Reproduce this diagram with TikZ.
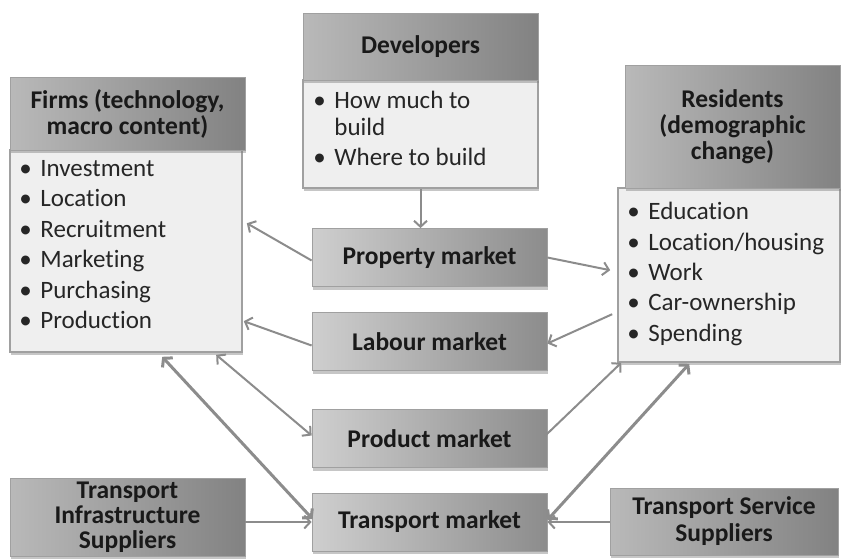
\documentclass[tikz,border=0pt]{standalone}
\usepackage{fontspec}
\setmainfont{Carlito}[Ligatures={NoCommon}]
\usetikzlibrary{calc,shadows,arrows.meta}
\definecolor{txt}{HTML}{262626}
\definecolor{arr}{HTML}{8C8C8C}
\definecolor{bodyfill}{HTML}{EFEFEF}
\definecolor{boxline}{HTML}{A0A0A0}
\newcommand\bl{\makebox[21pt][l]{\textbullet}}
\newcommand\bi{\makebox[21pt][l]{}}
\tikzset{
  shad/.style={drop shadow={opacity=0.45,shadow xshift=1pt,shadow yshift=-3pt}},
  hdr/.style={shad,draw=boxline,line width=0.8pt,left color=gray!55,right color=gray!98,
    inner sep=0pt,align=center,text=black!90,font=\bfseries\fontsize{25.5}{26}\selectfont},
  mkt/.style={shad,draw=boxline,line width=0.8pt,left color=gray!38,right color=gray!90,
    inner sep=0pt,align=center,text=black!90,font=\bfseries\fontsize{25.5}{30}\selectfont,
    minimum width=235pt,minimum height=58pt},
  bodybox/.style={shad,draw=boxline,line width=1.6pt,fill=bodyfill,inner sep=0pt},
  lst/.style={anchor=north west,inner sep=0pt,align=left,text=txt,
    font=\fontsize{25}{30.4}\selectfont},
  con/.style={draw=arr,line width=2pt,-{Straight Barb[length=6pt,width=13pt]}},
  dcon/.style={draw=arr,line width=3pt,{Straight Barb[length=6pt,width=14pt]}-{Straight Barb[length=6pt,width=14pt]}},
  scon/.style={draw=arr,line width=2pt,{Straight Barb[length=6pt,width=13pt]}-{Straight Barb[length=6pt,width=13pt]}},
}
\begin{document}
\begin{tikzpicture}[x=1pt,y=-1pt]
\useasboundingbox (0,0) rectangle (843,558);
% Firms
\node[bodybox,minimum width=232pt,minimum height=202pt] (firmsB) at (126,251) {};
\node[hdr,minimum width=235pt,minimum height=73pt] (firmsH) at (127.5,113.5) {Firms (technology,\\macro content)};
\node[lst] (firmsL) at ($(firmsB.north west)+(10,11)$) {\bl Investment\\\bl Location\\\bl Recruitment\\\bl Marketing\\\bl Purchasing\\\bl Production};
% Developers
\node[bodybox,minimum width=235pt,minimum height=108pt] (devB) at (420.5,134) {};
\node[hdr,minimum width=235pt,minimum height=67pt] (devH) at (420.5,46.5) {Developers};
\node[lst] (devL) at ($(devB.north west)+(11,12)$) {\bl How much to\\[-4pt]\bi build\\\bl Where to build};
% Residents
\node[bodybox,minimum width=222pt,minimum height=174pt] (resB) at (729,275) {};
\node[hdr,minimum width=215pt,minimum height=123pt] (resH) at (732.5,126.5) {Residents\\(demographic\\change)};
\node[lst] (resL) at ($(resB.north west)+(10,15)$) {\bl Education\\\bl Location/housing\\\bl Work\\\bl Car-ownership\\\bl Spending};
% Markets
\node[mkt] (prop) at (429.5,257.5) {Property market};
\node[mkt] (lab) at (429.5,341.5) {Labour market};
\node[mkt] (prod) at (429.5,438.5) {Product market};
\node[mkt] (trans) at (429.5,522) {Transport market};
% Suppliers
\node[hdr,minimum width=235pt,minimum height=78pt,font=\bfseries\fontsize{25.5}{25}\selectfont] (infra) at (127.5,517) {Transport\\Infrastructure\\Suppliers};
\node[hdr,minimum width=228pt,minimum height=67pt,font=\bfseries\fontsize{25.5}{27}\selectfont] (serv) at (724,521.5) {Transport Service\\Suppliers};
% Connectors
\draw[con] (devB.south) -- (devB.south |- prop.north);
\draw[con] ($(prop.west)+(0,3)$) -- ($(firmsB.north east)+(4,74)$);
\draw[con] ($(prop.east)+(0,0)$) -- ($(resB.north west)+(-7,83)$);
\draw[con] ($(resB.north west)+(-5,127)$) -- ($(lab.east)+(0,2)$);
\draw[con] ($(lab.west)+(0,4)$) -- ($(firmsB.north east)+(1,172)$);
\draw[scon] ($(firmsB.south west)+(207,2)$) -- ($(prod.west)+(0,-3)$);
\draw[dcon] ($(firmsB.south west)+(153,4)$) -- ($(trans.west)+(1,-3)$);
\draw[con] (infra.east |- trans.west) -- (trans.west);
\draw[con] ($(prod.east)+(-2,-3)$) -- ($(resB.south west)+(4,0)$);
\draw[dcon] ($(trans.east)+(0,-2)$) -- ($(resB.south west)+(72,1)$);
\draw[con] (serv.west |- trans.east) -- (trans.east);
\end{tikzpicture}
\end{document}
